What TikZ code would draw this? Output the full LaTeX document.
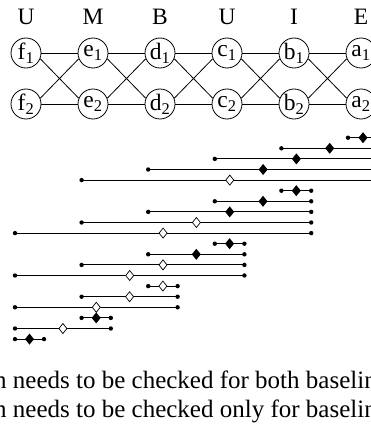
\documentclass[tikz,border=0pt]{standalone}
\usepackage{fontspec}
\setmainfont{Liberation Serif}
\begin{document}
\begin{tikzpicture}[x=1pt,y=-1pt,
  state/.style={circle,draw,line width=0.8pt,minimum size=30pt,inner sep=0pt,
    font=\fontsize{23.5}{23.5}\selectfont},
  colhead/.style={font=\fontsize{23.5}{23.5}\selectfont},
  trellis/.style={line width=0.8pt},
  seg/.style={line width=0.9pt},
  enddot/.style={fill=black},
  fulldia/.style={fill=black},
  opendia/.style={fill=white,draw=black,line width=0.7pt},
  caption/.style={font=\fontsize{25}{25}\selectfont,anchor=base west,inner sep=0pt}]
\path[use as bounding box] (0,0) rectangle (371,428);
\clip (0,0) rectangle (371,428);

% column headings and the two-state trellis
\foreach \h/\n [count=\c from 0] in {U/f,M/e,B/d,U/c,I/b,E/a}{
  \node[colhead] (h\c) at (26+67*\c,17) {\h};
  \node[state] (\n1) at (26+67*\c,53) {\n\textsubscript{1}};
  \node[state] (\n2) at (26+67*\c,104) {\n\textsubscript{2}};
}
\foreach \p/\q in {f/e,e/d,d/c,c/b,b/a}{
  \draw[trellis] (\p1) -- (\q1);
  \draw[trellis] (\p2) -- (\q2);
  \draw[trellis] (\p1.-22) -- (\q2.158);
  \draw[trellis] (\p2.22) -- (\q1.202);
}

% segments: start column i, end column j, filled (1) or open (0) midpoint mark
\foreach \i/\j/\f [count=\k from 0] in
  {5/5/1,4/5/1,3/5/1,2/5/1,1/5/0,
   4/4/1,3/4/1,2/4/1,1/4/0,0/4/0,
   3/3/1,2/3/1,1/3/0,0/3/0,
   2/2/0,1/2/0,0/2/0,
   1/1/1,0/1/0,
   0/0/1}{
  \pgfmathsetmacro{\ya}{137.7+10.6*\k}
  \pgfmathsetmacro{\xl}{15+66.6*\i}
  \pgfmathsetmacro{\xr}{44+66.8*\j}
  \pgfmathsetmacro{\xm}{(\xl+\xr)/2}
  \coordinate (s\k) at (\xl,\ya);
  \coordinate (e\k) at (\xr,\ya);
  \coordinate (m\k) at (\xm,\ya);
  \draw[seg] (s\k) -- (e\k);
  \fill[enddot] (s\k) circle (2.2pt);
  \fill[enddot] (e\k) circle (2.2pt);
  \ifnum\f=1
    \fill[fulldia] ([yshift=-5.5pt]m\k) -- ([xshift=4.5pt]m\k) -- ([yshift=5.5pt]m\k) -- ([xshift=-4.5pt]m\k) -- cycle;
  \else
    \draw[opendia] ([yshift=-5pt]m\k) -- ([xshift=4pt]m\k) -- ([yshift=5pt]m\k) -- ([xshift=-4pt]m\k) -- cycle;
  \fi
}

% legend text
\node[caption] (t1) at (-6,388) {n needs to be checked for both baselin};
\node[caption] (t2) at (-6,417) {n needs to be checked only for baselin};
\end{tikzpicture}
\end{document}
